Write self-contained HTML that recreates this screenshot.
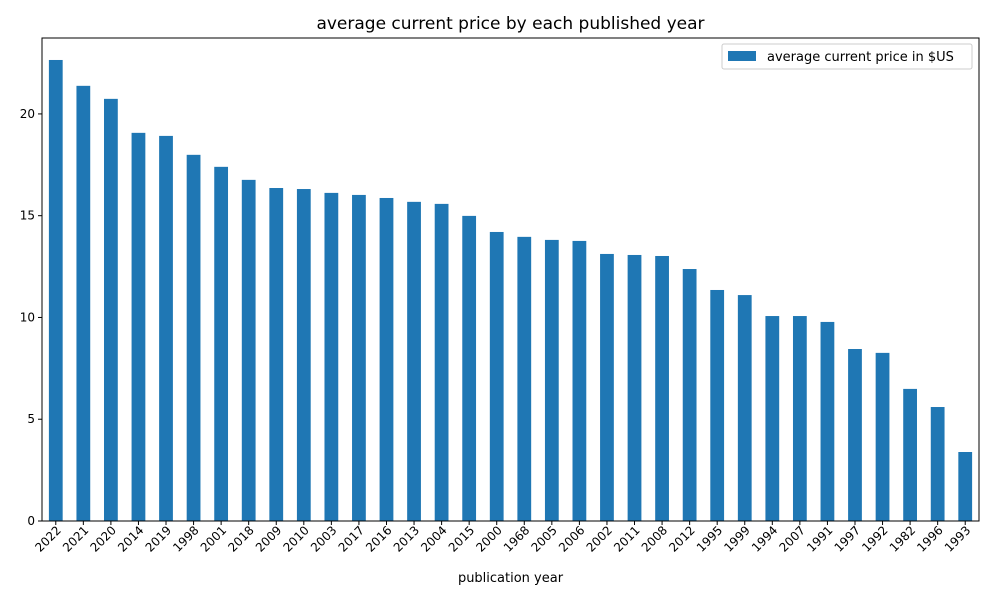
<!DOCTYPE html>
<html><head><meta charset="utf-8"><style>
body{margin:0;background:#fff;font-family:"Liberation Sans","DejaVu Sans",sans-serif}
</style></head><body>
<svg id="chart" width="1000" height="600" xmlns="http://www.w3.org/2000/svg" font-family="DejaVu Sans, Liberation Sans, sans-serif">
<rect width="1000" height="600" fill="#fff"/>
<text x="510.5" y="29" text-anchor="middle" font-size="17">average current price by each published year</text>
<g id="bars"></g>
<g id="axes"></g>
<text x="510.5" y="582" text-anchor="middle" font-size="13">publication year</text>
<g>
<rect x="722" y="44" width="250" height="25" fill="#fff" stroke="#ccc" rx="2"/>
<rect x="728" y="51" width="28" height="10" fill="#1f77b4"/>
<text x="767" y="61" font-size="13">average current price in $US</text>
</g>
</svg>
<script>
const categories=["2022","2021","2020","2014","2019","1998","2001","2018","2009","2010","2003","2017","2016","2013","2004","2015","2000","1968","2005","2006","2002","2011","2008","2012","1995","1999","1994","2007","1991","1997","1992","1982","1996","1993"];
const values=[22.65,21.38,20.74,19.07,18.92,17.99,17.4,16.76,16.36,16.31,16.12,16.02,15.87,15.68,15.58,14.99,14.2,13.96,13.81,13.76,13.12,13.07,13.02,12.38,11.35,11.1,10.07,10.07,9.78,8.45,8.26,6.49,5.6,3.39];
const yTicks=[0,5,10,15,20];
const L=42,R=979,T=38,B=521,yMax=23.73;
const NS="http://www.w3.org/2000/svg";
const step=(R-L)/categories.length;
const x=i=>L+step*(i+0.5);
const y=v=>B-(v/yMax)*(B-T);
function mk(t,a,p){const e=document.createElementNS(NS,t);for(const k in a)e.setAttribute(k,a[k]);p.appendChild(e);return e;}
const bars=document.getElementById('bars'),axes=document.getElementById('axes');
values.forEach((v,i)=>{
 const r=mk('rect',{x:x(i)-step*0.25,y:y(v),width:step*0.5,height:B-y(v),fill:'#1f77b4'},bars);
 
 
 const tk=mk('line',{x1:x(i),x2:x(i),y1:B,y2:B+4,stroke:'#000'},axes);
 
 
 const tx=mk('text',{x:0,y:0,'font-size':12,'text-anchor':'end',transform:`translate(${x(i)+6},${B+10}) rotate(-45)`},axes);
 
 
 tx.textContent=categories[i];
});
yTicks.forEach(t=>{
 const tk=mk('line',{x1:L-4,x2:L,y1:y(t),y2:y(t),stroke:'#000'},axes);
 
 
 const tx=mk('text',{x:L-7,y:y(t)+4,'font-size':12,'text-anchor':'end'},axes);
 
 
 tx.textContent=t;
});
const fr=mk('rect',{x:L,y:T,width:R-L,height:B-T,fill:'none',stroke:'#000','stroke-width':1},axes);


</script>
</body></html>
